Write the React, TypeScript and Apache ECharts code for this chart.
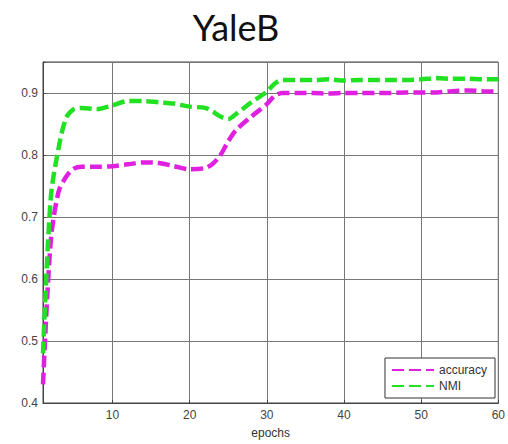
import React, { useEffect, useRef } from "react";
import * as echarts from "echarts";

const epochs = [1, 2, 3, 4, 5, 6, 8, 10, 12, 14, 16, 18, 20, 22, 23, 24, 25, 26, 28, 30, 31, 32, 34, 36, 38, 40, 42, 44, 46, 48, 50, 52, 54, 56, 58, 60];
const accuracy = [0.43, 0.66, 0.74, 0.765, 0.778, 0.781, 0.781, 0.782, 0.785, 0.788, 0.787, 0.782, 0.777, 0.779, 0.786, 0.8, 0.822, 0.84, 0.862, 0.882, 0.895, 0.9, 0.9, 0.9, 0.899, 0.9, 0.9, 0.9, 0.9, 0.901, 0.901, 0.901, 0.903, 0.904, 0.903, 0.902];
const nmi = [0.48, 0.73, 0.81, 0.86, 0.874, 0.876, 0.874, 0.88, 0.887, 0.887, 0.885, 0.883, 0.878, 0.876, 0.87, 0.862, 0.858, 0.866, 0.885, 0.902, 0.915, 0.921, 0.921, 0.921, 0.922, 0.92, 0.921, 0.921, 0.921, 0.921, 0.922, 0.924, 0.923, 0.923, 0.922, 0.922];
const seriesNames = ["accuracy", "NMI"];
const colors = ["#e020e0", "#22e022"];
const titleText = "YaleB";
const xName = "epochs";

export default function App() {
  const ref = useRef<HTMLDivElement>(null);
  useEffect(() => {
    if (!ref.current) return;
    const chart = echarts.init(ref.current, null, { renderer: "svg" });
    const font = "Liberation Sans, Arial, sans-serif";
    const mk = (arr: number[]) => epochs.map((e, i) => [e, arr[i]]);
    chart.setOption({
      animation: false,
      backgroundColor: "#ffffff",
      title: {
        text: titleText,
        left: 231,
        top: 4,
        textAlign: "center",
        textStyle: { fontFamily: "Lato, sans-serif", fontSize: 36, fontWeight: "normal", color: "#111" },
      },
      grid: {
        left: 43,
        right: 8,
        top: 62,
        bottom: 38,
        show: true,
        borderColor: "#444",
        borderWidth: 1,
        backgroundColor: "transparent",
      },
      legend: {
        orient: "vertical",
        right: 13,
        top: 358,
        padding: [6, 8, 6, 6],
        itemGap: 4,
        itemWidth: 42,
        itemHeight: 14,
        borderColor: "#333",
        borderWidth: 1,
        backgroundColor: "#fff",
        data: seriesNames,
        itemStyle: { opacity: 0 },
        textStyle: { fontFamily: font, fontSize: 12, color: "#333" },
      },
      xAxis: {
        type: "value",
        min: 1,
        max: 60,
        splitNumber: 6,
        name: xName,
        nameLocation: "middle",
        nameGap: 24,
        nameTextStyle: { fontFamily: font, fontSize: 12, color: "#333" },
        axisLine: { show: true, lineStyle: { color: "#444" } },
        axisTick: { show: true, inside: true, length: 3, lineStyle: { color: "#444" } },
        axisLabel: {
          fontFamily: font,
          fontSize: 12,
          color: "#444",
          margin: 6,
          formatter: (v: number) => (v % 10 === 0 ? String(v) : ""),
        },
        splitLine: { show: true, lineStyle: { color: "#777", width: 1 } },
      },
      yAxis: {
        type: "value",
        min: 0.4,
        max: 0.95,
        interval: 0.1,
        axisLine: { show: true, lineStyle: { color: "#444" } },
        axisTick: { show: true, inside: true, length: 3, lineStyle: { color: "#444" } },
        axisLabel: {
          fontFamily: font,
          fontSize: 12,
          color: "#444",
          margin: 5,
          formatter: (v: number) => (Math.abs(v * 10 - Math.round(v * 10)) < 1e-6 ? v.toFixed(1) : ""),
        },
        splitLine: { show: true, lineStyle: { color: "#777", width: 1 } },
      },
      series: [
        {
          name: seriesNames[0],
          type: "line",
          data: mk(accuracy),
          smooth: 0.3,
          symbol: "none",
          color: colors[0],
          lineStyle: { color: colors[0], width: 4.5, type: [12, 5] },
        },
        {
          name: seriesNames[1],
          type: "line",
          data: mk(nmi),
          smooth: 0.3,
          symbol: "none",
          color: colors[1],
          lineStyle: { color: colors[1], width: 4.5, type: [12, 5] },
        },
      ],
    });
    return () => chart.dispose();
  }, []);
  return <div ref={ref} style={{ width: 508, height: 444, position: "absolute", left: 0, top: 0 }} />;
}
